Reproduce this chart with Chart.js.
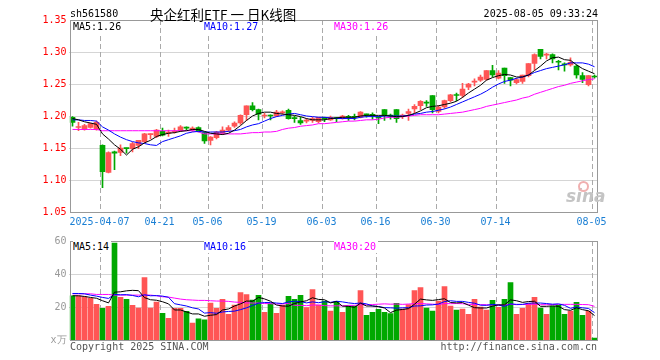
<!DOCTYPE html>
<html><head><meta charset="utf-8">
<script src="https://cdn.jsdelivr.net/npm/chart.js@4.4.0/dist/chart.umd.min.js"></script>
<style>
html,body{margin:0;padding:0;background:#fff;}
#wrap{position:relative;width:660px;height:360px;overflow:hidden;font-family:"DejaVu Sans Mono",monospace;font-size:10px;}
.t{position:absolute;white-space:pre;line-height:12px;}
.lg{background:#fff;padding-right:2px;}
#c1{position:absolute;left:0;top:0;}
#c2{position:absolute;left:0;top:232px;}
</style></head><body>
<div id="wrap">
<canvas id="c1" width="660" height="232"></canvas>
<canvas id="c2" width="660" height="128"></canvas>
<div class="t" style="left:70px;top:8px;color:#000">sh561580</div>
<div class="t" style="left:150px;top:6px;font-family:'Noto Sans CJK SC';font-size:13.5px;line-height:16px;color:#000">央企红利ETF 一 日K线图</div>
<div class="t" style="right:62px;top:8px;color:#000">2025-08-05 09:33:24</div>
<div class="t lg" style="left:73px;top:21px;color:#000" id="l1"></div>
<div class="t lg" style="left:204px;top:21px;color:#0000ff" id="l2"></div>
<div class="t lg" style="left:334px;top:21px;color:#ff00ff" id="l3"></div>
<div class="t lg" style="left:73px;top:241px;color:#000" id="v1"></div>
<div class="t lg" style="left:204px;top:241px;color:#0000ff" id="v2"></div>
<div class="t lg" style="left:334px;top:241px;color:#ff00ff" id="v3"></div>
<div class="t" style="left:566px;top:186px;font-family:'DejaVu Sans';font-style:italic;font-weight:bold;font-size:17px;line-height:20px;color:#c4c4c4">sina</div>
<div style="position:absolute;left:578px;top:181px;width:7px;height:7px;border-radius:50%;border:2px solid #f0b0b0;"></div>
<div class="t" style="left:70px;top:341px;color:#555">Copyright 2025 SINA.COM</div>
<div class="t" style="right:63px;top:341px;color:#555">http://finance.sina.com.cn</div>
</div>
<script>
const dates = ['03-28','03-31','04-01','04-02','04-03','04-07','04-08','04-09','04-10','04-11',
'04-14','04-15','04-16','04-17','04-18','04-21','04-22','04-23','04-24','04-25',
'04-28','04-29','04-30','05-06','05-07','05-08','05-09','05-12','05-13','05-14',
'05-15','05-16','05-19','05-20','05-21','05-22','05-23','05-26','05-27','05-28',
'05-29','05-30','06-03','06-04','06-05','06-06','06-09','06-10','06-11','06-12',
'06-13','06-16','06-17','06-18','06-19','06-20','06-23','06-24','06-25','06-26',
'06-27','06-30','07-01','07-02','07-03','07-04','07-07','07-08','07-09','07-10',
'07-11','07-14','07-15','07-16','07-17','07-18','07-21','07-22','07-23','07-24',
'07-25','07-28','07-29','07-30','07-31','08-01','08-04','08-05'];
const tickDates = ['04-07','04-21','05-06','05-19','06-03','06-16','06-30','07-14','08-05'];
const tickNames = ['2025-04-07','04-21','05-06','05-19','06-03','06-16','06-30','07-14','08-05'];
const priceTicks = [1.05,1.10,1.15,1.20,1.25,1.30,1.35];
const volTicks = [0,20,40,60];

const open = [1.198,1.182,1.179,1.182,1.179,1.154,1.112,1.144,1.143,1.150,
1.149,1.154,1.160,1.171,1.168,1.176,1.173,1.175,1.177,1.182,
1.178,1.182,1.174,1.162,1.166,1.173,1.178,1.184,1.189,1.202,
1.216,1.210,1.200,1.201,1.200,1.205,1.209,1.197,1.193,1.192,
1.193,1.191,1.198,1.194,1.197,1.196,1.199,1.199,1.198,1.203,
1.202,1.198,1.210,1.201,1.210,1.200,1.204,1.211,1.216,1.221,
1.232,1.207,1.214,1.224,1.233,1.232,1.245,1.253,1.256,1.257,
1.271,1.259,1.275,1.260,1.252,1.254,1.263,1.282,1.304,1.295,
1.296,1.285,1.281,1.280,1.278,1.263,1.249,1.262];
const high = [1.199,1.190,1.187,1.189,1.192,1.155,1.144,1.145,1.155,1.150,
1.159,1.162,1.173,1.172,1.179,1.181,1.178,1.181,1.185,1.183,
1.183,1.183,1.175,1.168,1.176,1.183,1.185,1.191,1.202,1.216,
1.221,1.211,1.204,1.202,1.209,1.208,1.211,1.200,1.198,1.196,
1.198,1.198,1.198,1.200,1.198,1.201,1.201,1.203,1.207,1.203,
1.205,1.199,1.210,1.203,1.210,1.203,1.211,1.218,1.224,1.224,
1.232,1.216,1.225,1.234,1.236,1.251,1.251,1.258,1.264,1.271,
1.279,1.271,1.275,1.260,1.259,1.264,1.282,1.297,1.304,1.298,
1.297,1.287,1.283,1.291,1.280,1.268,1.263,1.264];
const low = [1.184,1.177,1.178,1.181,1.178,1.088,1.111,1.116,1.138,1.142,
1.144,1.149,1.158,1.164,1.166,1.169,1.168,1.173,1.176,1.178,
1.176,1.175,1.157,1.155,1.164,1.171,1.176,1.182,1.187,1.193,
1.208,1.194,1.197,1.194,1.199,1.203,1.195,1.190,1.187,1.189,
1.190,1.189,1.191,1.193,1.191,1.195,1.193,1.194,1.197,1.198,
1.195,1.188,1.193,1.195,1.190,1.196,1.193,1.205,1.210,1.215,
1.205,1.205,1.212,1.222,1.224,1.229,1.241,1.247,1.254,1.256,
1.261,1.258,1.251,1.247,1.250,1.251,1.261,1.272,1.289,1.289,
1.283,1.272,1.270,1.278,1.259,1.252,1.247,1.259];
const close = [1.190,1.183,1.185,1.188,1.190,1.113,1.143,1.142,1.150,1.149,
1.157,1.162,1.172,1.172,1.178,1.170,1.175,1.176,1.183,1.181,
1.181,1.176,1.161,1.167,1.175,1.178,1.182,1.189,1.201,1.216,
1.210,1.203,1.201,1.200,1.206,1.206,1.196,1.196,1.189,1.193,
1.196,1.198,1.196,1.198,1.196,1.200,1.198,1.198,1.206,1.202,
1.201,1.197,1.201,1.200,1.196,1.201,1.207,1.215,1.223,1.220,
1.210,1.214,1.224,1.233,1.232,1.242,1.250,1.254,1.261,1.271,
1.264,1.267,1.263,1.256,1.257,1.264,1.282,1.296,1.293,1.296,
1.289,1.284,1.280,1.284,1.264,1.257,1.263,1.261];
const volume = [26.8,26.8,26.2,25.2,21.6,19.2,20.4,58.8,25.8,24.6,
21.0,19.4,37.8,19.4,23.0,16.2,13.2,19.2,19.2,17.4,
10.2,12.8,12.2,22.4,19.2,24.6,15.6,21.2,28.8,27.6,
24.2,27.0,16.8,22.0,16.2,21.2,26.4,24.6,27.0,19.6,
30.6,21.2,23.6,17.6,23.4,16.8,20.6,20.6,30.0,15.0,
16.8,18.6,16.8,16.0,22.2,18.8,21.4,30.0,31.8,19.4,
17.6,23.6,32.4,20.6,18.2,18.8,15.6,24.6,20.0,18.2,
24.0,19.8,24.6,34.8,15.6,19.2,22.2,25.8,19.4,15.6,
20.4,21.0,15.6,17.6,22.8,15.0,17.6,1.2];
const ma5 = [1.196,1.194,1.191,1.189,1.187,1.172,1.164,1.155,1.148,1.139,
1.148,1.152,1.158,1.162,1.168,1.171,1.173,1.174,1.176,1.177,
1.179,1.179,1.176,1.173,1.172,1.171,1.173,1.178,1.185,1.193,
1.200,1.204,1.206,1.206,1.204,1.203,1.202,1.201,1.199,1.196,
1.194,1.194,1.194,1.196,1.197,1.198,1.198,1.198,1.200,1.201,
1.201,1.201,1.201,1.200,1.199,1.199,1.201,1.204,1.208,1.213,
1.215,1.216,1.218,1.220,1.223,1.229,1.236,1.242,1.248,1.256,
1.260,1.263,1.265,1.264,1.261,1.261,1.264,1.271,1.278,1.286,
1.291,1.292,1.288,1.287,1.280,1.274,1.270,1.266];
const ma10 = [1.194,1.194,1.193,1.193,1.192,1.183,1.178,1.172,1.167,1.163,
1.160,1.158,1.157,1.155,1.154,1.160,1.163,1.166,1.169,1.173,
1.175,1.176,1.175,1.175,1.175,1.175,1.176,1.177,1.179,1.183,
1.186,1.188,1.192,1.196,1.199,1.201,1.203,1.204,1.202,1.200,
1.199,1.198,1.198,1.197,1.196,1.196,1.196,1.196,1.198,1.199,
1.199,1.199,1.200,1.200,1.200,1.200,1.201,1.203,1.204,1.206,
1.207,1.209,1.211,1.214,1.218,1.222,1.226,1.230,1.234,1.239,
1.245,1.250,1.254,1.256,1.259,1.261,1.264,1.268,1.271,1.274,
1.276,1.278,1.280,1.283,1.283,1.283,1.281,1.277];
const ma30 = [1.179,1.179,1.179,1.179,1.179,1.177,1.177,1.177,1.177,1.177,
1.177,1.177,1.177,1.177,1.177,1.177,1.177,1.177,1.177,1.177,
1.177,1.175,1.172,1.172,1.172,1.172,1.172,1.172,1.172,1.173,
1.174,1.174,1.175,1.175,1.176,1.179,1.181,1.182,1.184,1.185,
1.186,1.188,1.188,1.189,1.190,1.191,1.192,1.192,1.193,1.194,
1.194,1.195,1.197,1.198,1.198,1.199,1.200,1.201,1.202,1.202,
1.202,1.202,1.203,1.204,1.205,1.206,1.208,1.210,1.212,1.215,
1.217,1.219,1.221,1.223,1.225,1.228,1.230,1.234,1.237,1.240,
1.243,1.246,1.248,1.251,1.253,1.255,1.257,1.258];
const vma5 = [26.8,26.8,26.4,25.8,25.3,23.8,22.5,29.0,29.2,29.8,
30.1,29.9,25.7,24.4,24.1,23.2,21.9,18.2,18.2,17.0,
15.8,15.8,14.4,15.0,15.4,18.2,18.8,20.6,21.9,23.6,
23.5,25.8,24.9,23.5,21.2,20.6,20.5,22.1,23.1,23.8,
25.6,24.6,24.4,22.5,23.3,20.5,20.4,19.8,22.3,20.6,
20.6,20.2,19.4,16.6,18.1,18.5,19.0,21.7,24.8,24.3,
24.0,24.5,25.0,22.7,22.5,22.7,21.1,19.6,19.4,19.4,
20.5,21.3,21.3,24.3,23.8,22.8,23.3,23.5,20.4,20.4,
20.7,20.4,18.4,18.0,19.5,18.4,17.7,14.8];
const vma10 = [28.2,28.2,28.0,27.2,26.6,25.8,25.2,27.6,27.4,27.5,
27.0,26.2,27.4,26.8,26.9,26.6,25.9,22.0,21.3,20.6,
19.5,18.8,16.3,16.6,16.2,17.0,17.3,17.5,18.4,19.5,
20.9,22.3,22.7,22.7,22.4,22.1,23.1,23.5,23.3,22.5,
23.1,22.6,23.2,22.8,23.5,23.1,22.5,22.1,22.4,21.9,
20.6,20.3,19.6,19.5,19.3,19.5,19.6,20.6,20.7,21.2,
21.3,21.8,23.3,23.8,23.4,23.4,22.8,22.3,21.1,21.0,
21.6,21.2,20.4,21.9,21.6,21.6,22.3,22.4,22.4,22.1,
21.7,21.9,21.0,19.2,20.0,19.5,19.1,16.6];
const vma30 = [28.0,28.0,28.0,28.0,27.6,27.6,27.6,27.2,27.2,27.2,
27.2,27.2,27.2,27.2,26.8,26.2,26.0,25.4,24.8,24.4,
24.2,24.0,24.0,23.8,23.6,23.6,23.4,23.0,22.8,22.5,
22.4,22.4,22.1,22.0,21.8,21.9,22.1,21.0,21.0,20.8,
21.2,21.2,20.8,20.7,20.7,20.7,21.0,21.0,21.4,21.3,
21.5,21.7,21.9,21.7,21.8,21.6,21.8,22.0,22.1,21.9,
21.7,21.5,22.1,22.0,22.1,22.0,21.6,21.6,21.4,21.4,
21.1,21.1,21.1,21.7,21.4,21.5,21.6,21.7,21.4,21.4,
21.5,21.6,21.6,21.6,21.6,21.5,21.4,20.4];
const priceLegend = ['MA5:1.26','MA10:1.27','MA30:1.26'];
const volLegend = ['MA5:14','MA10:16','MA30:20'];

['l1','l2','l3'].forEach((id,k)=>document.getElementById(id).textContent=priceLegend[k]);
['v1','v2','v3'].forEach((id,k)=>document.getElementById(id).textContent=volLegend[k]);

const UP='#ff5555', DOWN='#00a800', GRID='#aaaaaa';
const dirColors = close.map((c,i)=> c>=open[i]?UP:DOWN);
const bodies = open.map((o,i)=>[o,close[i]]);
const wicks = low.map((l,i)=>[l,high[i]]);
const monoFont = {family:'DejaVu Sans Mono', size:10};

const framePlugin = {id:'frame', afterDraw(chart){
  const {ctx, chartArea:a} = chart;
  ctx.save();
  ctx.strokeStyle = '#999'; ctx.lineWidth = 1; ctx.setLineDash([]);
  const x0 = Math.ceil(a.left)+0.5, x1 = Math.floor(a.right)+0.5;
  const y0 = Math.round(a.top)+0.5, y1 = Math.round(a.bottom)+0.5;
  ctx.strokeRect(x0, y0, x1-x0, y1-y0);
  ctx.restore();
}};
const gridPlugin = {id:'grid2', beforeDatasetsDraw(chart, args, opts){
  const {ctx, chartArea:a} = chart;
  const xs = chart.scales.x, ys = chart.scales.y;
  ctx.save();
  ctx.strokeStyle = GRID; ctx.lineWidth = 1;
  ctx.setLineDash([1,1]);
  opts.yTicks.slice(1,-1).forEach(v=>{
    const py = Math.round(ys.getPixelForValue(v))+0.5;
    ctx.beginPath(); ctx.moveTo(a.left,py); ctx.lineTo(a.right,py); ctx.stroke();
  });
  ctx.setLineDash([5,3]);
  const half = (xs.getPixelForValue(1)-xs.getPixelForValue(0))/2;
  tickDates.forEach(d=>{
    const i = dates.indexOf(d);
    const px = Math.round(xs.getPixelForValue(i)-half)+0.5;
    ctx.beginPath(); ctx.moveTo(px,a.top); ctx.lineTo(px,a.bottom); ctx.stroke();
  });
  ctx.restore();
}};

function xScale(showLabels){
  return {
    offset:true,
    grid:{display:false, drawTicks:false},
    border:{display:false},
    ticks:{display:showLabels, autoSkip:false, maxRotation:0, minRotation:0, padding:4, labelOffset:-3,
      color:'#1a7fd4', font:monoFont,
      callback:(v,i)=>{const k=tickDates.indexOf(dates[i]); return k<0?'':tickNames[k];}},
    afterFit:(s)=>{s.height=20;}
  };
}
function lineDs(data,color){
  return {type:'line', data, borderColor:color, borderWidth:1, pointRadius:0, tension:0, fill:false, order:0};
}

new Chart(document.getElementById('c1'), {
  type:'bar',
  data:{labels:dates, datasets:[
    lineDs(ma5,'#000000'), lineDs(ma10,'#0000ff'), lineDs(ma30,'#ff00ff'),
    {data:bodies, backgroundColor:dirColors, barThickness:5, grouped:false, minBarLength:1, order:1},
    {data:wicks, backgroundColor:dirColors, barThickness:1, grouped:false, order:2}
  ]},
  options:{
    responsive:false, animation:false, devicePixelRatio:1,
    layout:{padding:{left:0,right:62.5,top:20,bottom:0}},
    plugins:{legend:{display:false}, tooltip:{enabled:false}, grid2:{yTicks:priceTicks}},
    scales:{
      x:xScale(true),
      y:{min:priceTicks[0], max:priceTicks[priceTicks.length-1],
        afterBuildTicks:(s)=>{s.ticks = priceTicks.map(v=>({value:v}));},
        ticks:{color:'#ff0000', padding:3, font:monoFont, callback:(v)=>Number(v).toFixed(2)},
        grid:{display:false, drawTicks:false},
        border:{display:false},
        afterFit:(s)=>{s.width=69.5;}
      }
    }
  },
  plugins:[gridPlugin, framePlugin]
});

new Chart(document.getElementById('c2'), {
  type:'bar',
  data:{labels:dates, datasets:[
    lineDs(vma5,'#000000'), lineDs(vma10,'#0000ff'), lineDs(vma30,'#ff00ff'),
    {data:volume, backgroundColor:dirColors, barThickness:5, grouped:false, order:1}
  ]},
  options:{
    responsive:false, animation:false, devicePixelRatio:1,
    layout:{padding:{left:0,right:62.5,top:8,bottom:0}},
    plugins:{legend:{display:false}, tooltip:{enabled:false}, grid2:{yTicks:volTicks}},
    scales:{
      x:xScale(false),
      y:{min:volTicks[0], max:volTicks[volTicks.length-1],
        afterBuildTicks:(s)=>{s.ticks = volTicks.map(v=>({value:v}));},
        ticks:{color:'#999999', padding:3, font:monoFont, callback:(v)=> v===0?'x万':String(v)},
        grid:{display:false, drawTicks:false},
        border:{display:false},
        afterFit:(s)=>{s.width=69.5;}
      }
    }
  },
  plugins:[gridPlugin, framePlugin]
});
</script>
</body></html>
